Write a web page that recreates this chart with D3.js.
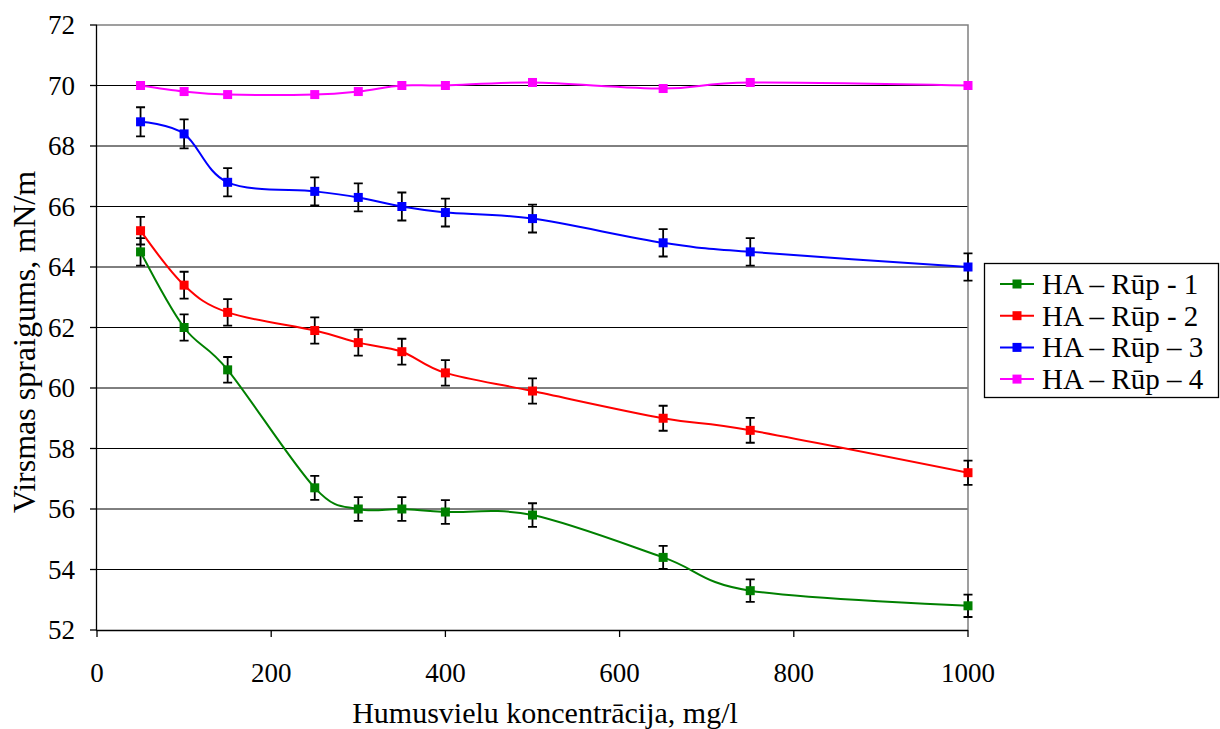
<!DOCTYPE html>
<html>
<head>
<meta charset="utf-8">
<script src="https://cdn.jsdelivr.net/npm/d3@7"></script>
</head>
<body style="margin:0">
<script>
// data
var koncentracija = [50, 100, 150, 250, 300, 350, 400, 500, 650, 750, 1000];

var rup1 = [64.5, 62.0, 60.6, 56.7, 56.0, 56.0, 55.9, 55.8, 54.4, 53.3, 52.8];
var rup2 = [65.2, 63.4, 62.5, 61.9, 61.5, 61.2, 60.5, 59.9, 59.0, 58.6, 57.2];
var rup3 = [68.8, 68.4, 66.8, 66.5, 66.3, 66.0, 65.8, 65.6, 64.8, 64.5, 64.0];
var rup4 = [70.0, 69.8, 69.7, 69.7, 69.8, 70.0, 70.0, 70.1, 69.9, 70.1, 70.0];

var seriesNames = ["HA \u2013 R\u016bp - 1", "HA \u2013 R\u016bp - 2", "HA \u2013 R\u016bp \u2013 3", "HA \u2013 R\u016bp \u2013 4"];
var seriesColors = ["#008000", "#ff0000", "#0000ff", "#ff00ff"];
var seriesErrPct = [0.7, 0.7, 0.7, 0];   // excel percentage error bars

var xTicks = [0, 200, 400, 600, 800, 1000];
var yTicks = [52, 54, 56, 58, 60, 62, 64, 66, 68, 70, 72];

var allSeries = [rup1, rup2, rup3, rup4];

var serif = "Times New Roman";

// graph
var margin = {top: 25, right: 252, bottom: 99, left: 97};
var width = 1220 - margin.left - margin.right;
var height = 729 - margin.top - margin.bottom;

var svg = d3.select("body").append("svg")
    .attr("width", 1220)
    .attr("height", 729);

var g = svg.append("g")
    .attr("transform", "translate(" + margin.left + "," + margin.top + ")");

var x = d3.scaleLinear().domain([0, 1000]).range([0, width]);
var y = d3.scaleLinear().domain([52, 72]).range([height, 0]);

// gridlines
g.selectAll(".grid")
  .data(yTicks.filter(d => d > 52 && d < 72))
  .enter().append("line")
    .attr("class", "grid")
    .attr("x1", 0).attr("x2", width)
    .attr("y1", d => y(d)).attr("y2", d => y(d))
    .attr("stroke", "#000")
    .attr("stroke-width", 1);

// frame top/right
g.append("path")
  .attr("d", "M0," + y(72) + "H" + width + "V" + height)
  .attr("fill", "none")
  .attr("stroke", "#808080")
  .attr("stroke-width", 1.5);

// axes, labels drawn by hand so the font sticks
g.append("line")
  .attr("x1", -0.5).attr("x2", -0.5).attr("y1", 0).attr("y2", height + 0.5)
  .attr("stroke", "#000").attr("stroke-width", 1.3);
g.append("line")
  .attr("x1", -0.5).attr("x2", width).attr("y1", height + 0.5).attr("y2", height + 0.5)
  .attr("stroke", "#000").attr("stroke-width", 1.3);

g.selectAll(".ytick")
  .data(yTicks)
  .enter().append("line")
    .attr("class", "ytick")
    .attr("x1", -7).attr("x2", 0)
    .attr("y1", d => y(d)).attr("y2", d => y(d))
    .attr("stroke", "#000").attr("stroke-width", 1.3);

g.selectAll(".xtick")
  .data(xTicks)
  .enter().append("line")
    .attr("class", "xtick")
    .attr("x1", d => x(d)).attr("x2", d => x(d))
    .attr("y1", height).attr("y2", height + 7)
    .attr("stroke", "#000").attr("stroke-width", 1.3);

g.selectAll(".ylab")
  .data(yTicks)
  .enter().append("text")
    .attr("class", "ylab")
    .attr("x", -22)
    .attr("y", d => y(d) + 9)
    .attr("text-anchor", "end")
    .attr("font-family", serif)
    .attr("font-size", 27)
    .text(d => d);

g.selectAll(".xlab")
  .data(xTicks)
  .enter().append("text")
    .attr("class", "xlab")
    .attr("x", d => x(d))
    .attr("y", height + 52)
    .attr("text-anchor", "middle")
    .attr("font-family", serif)
    .attr("font-size", 27)
    .text(d => d);

// lines
var drawLine = d3.line()
    .x((d, i) => x(koncentracija[i]))
    .y(d => y(d))
    .curve(d3.curveCardinal.tension(0));

allSeries.forEach((vals, s) => {
  g.append("path")
    .attr("class", "pathline-" + s)
    .attr("d", drawLine(vals))
    .attr("stroke", seriesColors[s])
    .attr("stroke-width", 2)
    .attr("fill", "none");

  // error bars
  if (seriesErrPct[s] > 0) {
    var eb = g.append("g").attr("class", "errbars-" + s);
    vals.forEach((v, i) => {
      var e = v * seriesErrPct[s] / 100;
      var cx = x(koncentracija[i]);
      eb.append("path")
        .attr("d", "M" + cx + "," + y(v + e) + "V" + y(v - e)
          + "M" + (cx - 4.5) + "," + y(v + e) + "H" + (cx + 4.5)
          + "M" + (cx - 4.5) + "," + y(v - e) + "H" + (cx + 4.5))
        .attr("stroke", "#000")
        .attr("stroke-width", 1.8)
        .attr("fill", "none");
    });
  }

  g.selectAll(".mark-" + s)
    .data(vals)
    .enter().append("rect")
      .attr("class", "mark-" + s)
      .attr("x", (d, i) => x(koncentracija[i]) - 4.5)
      .attr("y", d => y(d) - 4.5)
      .attr("width", 9)
      .attr("height", 9)
      .attr("fill", seriesColors[s]);
});

// axis titles
svg.append("text")
  .attr("x", 545)
  .attr("y", 723)
  .attr("text-anchor", "middle")
  .attr("font-family", serif)
  .attr("font-size", 30)
  .text("Humusvielu koncentr\u0101cija, mg/l");

svg.append("text")
  .attr("transform", "translate(35,342) rotate(-90)")
  .attr("text-anchor", "middle")
  .attr("font-family", serif)
  .attr("font-size", 32)
  .text("Virsmas spraigums, mN/m");

// legend
var legend = svg.append("g");
legend.append("rect")
  .attr("x", 984.5).attr("y", 263.5)
  .attr("width", 234).attr("height", 134)
  .attr("fill", "#fff")
  .attr("stroke", "#000")
  .attr("stroke-width", 1.3);

seriesNames.forEach((name, s) => {
  var ly = 284 + s * 31.7;
  legend.append("line")
    .attr("x1", 1000).attr("x2", 1034)
    .attr("y1", ly).attr("y2", ly)
    .attr("stroke", seriesColors[s])
    .attr("stroke-width", 2);
  legend.append("rect")
    .attr("x", 1017 - 4.5).attr("y", ly - 4.5)
    .attr("width", 9).attr("height", 9)
    .attr("fill", seriesColors[s]);
  legend.append("text")
    .attr("x", 1042)
    .attr("y", ly + 10)
    .attr("font-family", serif)
    .attr("font-size", 29)
    .text(name);
});
</script>
</body>
</html>
